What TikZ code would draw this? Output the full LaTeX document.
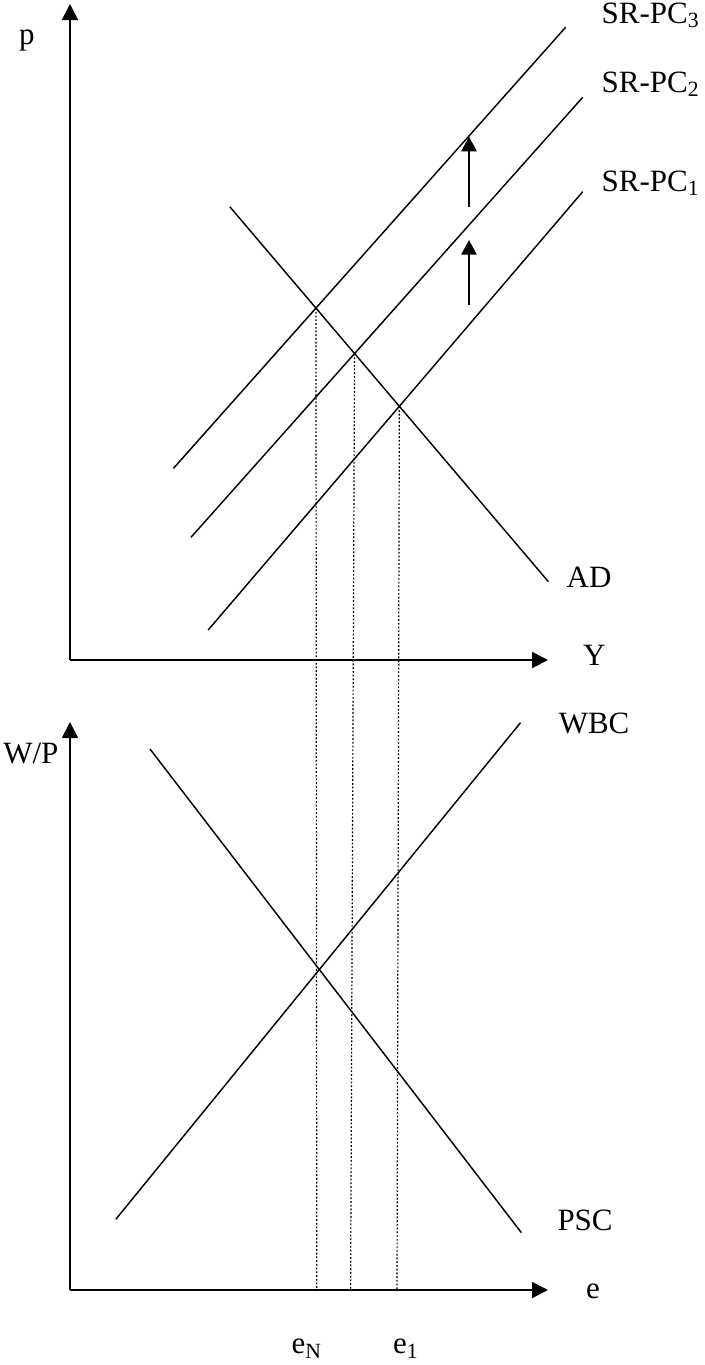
\documentclass[tikz,border=0pt]{standalone}
\usepackage{fontspec}
\setmainfont{Liberation Serif}
\usetikzlibrary{arrows.meta}
\begin{document}
\begin{tikzpicture}[x=0.75pt,y=-0.75pt,
  every node/.style={inner sep=0pt,outer sep=0pt,font=\fontsize{23.25pt}{28pt}\selectfont},
  lbl/.style={anchor=base west},
  axis/.style={line width=1.4pt,-{Triangle[length=12pt,width=12pt]}},
  curve/.style={line width=1.1pt},
  shiftarrow/.style={line width=1.6pt,-{Triangle[length=11pt,width=11.5pt]}},
  guide/.style={line width=0.9pt,dash pattern=on 1.4pt off 1.4pt}]
\useasboundingbox (0,0) rectangle (704,1365);
% axes
\coordinate (O1) at (70,660);
\coordinate (Ytop) at (70,4);
\coordinate (Xend1) at (548,660);
\coordinate (O2) at (70,1290);
\coordinate (Wtop) at (70,722);
\coordinate (Xend2) at (548,1290);
% curve end points
\coordinate (SR3a) at (173.5,468.3);
\coordinate (SR3b) at (565.6,27.3);
\coordinate (SR2a) at (191,537.3);
\coordinate (SR2b) at (582.7,97.3);
\coordinate (SR1a) at (208.2,630);
\coordinate (SR1b) at (582.7,191.7);
\coordinate (ADa) at (229.8,206.7);
\coordinate (ADb) at (548.4,581.7);
\coordinate (WBCa) at (115.8,1219.3);
\coordinate (WBCb) at (520.5,722.7);
\coordinate (PSCa) at (150,749);
\coordinate (PSCb) at (521.4,1232.7);
% intersections
\coordinate (E3) at (intersection of SR3a--SR3b and ADa--ADb);
\coordinate (E2) at (intersection of SR2a--SR2b and ADa--ADb);
\coordinate (E1) at (intersection of SR1a--SR1b and ADa--ADb);
\coordinate (B3) at (316.8,1290);
\coordinate (B2) at (350.6,1290);
\coordinate (B1) at (397,1290);
% shift arrows
\coordinate (S1a) at (469,305);
\coordinate (S1b) at (469,240);
\coordinate (S2a) at (469,207.3);
\coordinate (S2b) at (469,136.7);

\draw[guide] (E3) -- (B3);
\draw[guide] (E2) -- (B2);
\draw[guide] (E1) -- (B1);

\draw[axis] (O1) -- (Ytop);
\draw[axis] (O1) -- (Xend1);
\draw[axis] (O2) -- (Wtop);
\draw[axis] (O2) -- (Xend2);

\draw[curve] (SR3a) -- (SR3b);
\draw[curve] (SR2a) -- (SR2b);
\draw[curve] (SR1a) -- (SR1b);
\draw[curve] (ADa) -- (ADb);
\draw[curve] (WBCa) -- (WBCb);
\draw[curve] (PSCa) -- (PSCb);

\draw[shiftarrow] (S1a) -- (S1b);
\draw[shiftarrow] (S2a) -- (S2b);

% labels
\node[lbl] (lp) at (19,44) {p};
\node[lbl] (lsr3) at (601.7,23) {SR-PC\textsubscript{3}};
\node[lbl] (lsr2) at (601.7,92) {SR-PC\textsubscript{2}};
\node[lbl] (lsr1) at (601.7,191) {SR-PC\textsubscript{1}};
\node[lbl] (lad) at (566.7,587.3) {AD};
\node[lbl] (ly) at (583,665) {Y};
\node[lbl] (lwp) at (3.3,763.3) {W/P};
\node[lbl] (lwbc) at (558.8,733.3) {WBC};
\node[lbl] (lpsc) at (557.5,1230.7) {PSC};
\node[lbl] (le) at (586,1298) {e};
\node[lbl] (leN) at (291.7,1353.3) {e\textsubscript{N}};
\node[lbl] (le1) at (393,1353.3) {e\textsubscript{1}};
\end{tikzpicture}
\end{document}
